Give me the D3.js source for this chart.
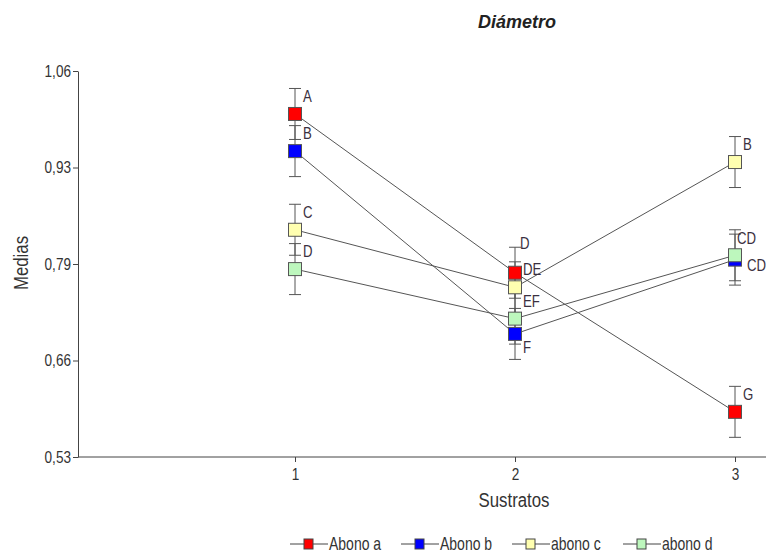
<!DOCTYPE html>
<html>
<head>
<meta charset="utf-8">
<script src="https://cdn.jsdelivr.net/npm/d3@7"></script>
<style>
  body { margin: 0; background: #fff; }
  text { font-family: "Liberation Sans", Arial, sans-serif; fill: #333; }
</style>
</head>
<body>
<div id="chart"></div>
<script>
// data
const sustratos = [1, 2, 3];
const seriesNames = ['Abono a', 'Abono b', 'abono c', 'abono d'];
const abonoA = [1.001, 0.783, 0.592];
const abonoB = [0.950, 0.699, 0.801];
const abonoC = [0.842, 0.763, 0.935];
const abonoD = [0.788, 0.720, 0.807];
const errHalf = 0.035;
const lettersA = ['A', 'D', 'G'];
const lettersB = ['B', 'F', 'CD'];
const lettersC = ['C', 'DE', 'B'];
const lettersD = ['D', 'EF', 'CD'];
const yTicks = [0.53, 0.6625, 0.795, 0.9275, 1.06];
const yTickLabels = ['0,53', '0,66', '0,79', '0,93', '1,06'];

const colors = ['#ff0000', '#0000ff', '#ffffb0', '#bdf7bd'];
// little nudges so the letters don't sit on top of each other
const labelNudge = [
    [[0, 0], [-3, -12], [0, 0]],
    [[0, 0], [0, 31], [4, 23]],
    [[0, 0], [0, 0], [0, 0]],
    [[0, 0], [0, 0], [-6, 1]]
];

const series = seriesNames.map((n, i) => ({
    name: n,
    values: [abonoA, abonoB, abonoC, abonoD][i],
    letters: [lettersA, lettersB, lettersC, lettersD][i],
    color: colors[i]
}));

const width = 766, height = 553;
const svg = d3.select('#chart').append('svg')
    .attr('width', width)
    .attr('height', height);

let x = d3.scaleLinear().domain([0, 3]).range([75, 735]);
let y = d3.scaleLinear().domain([0.53, 1.06]).range([457, 71]);
const axisColor = '#444';
const squeeze = 0.8; // the original font is a narrow one

// put a text at (px,py) and squash it horizontally
function narrowText(sel, px, py) {
    return sel.attr('x', 0).attr('y', 0)
        .attr('transform', 'translate(' + px + ',' + py + ') scale(' + squeeze + ',1)');
}

// title
svg.append('text')
    .attr('x', 517).attr('y', 28)
    .attr('text-anchor', 'middle')
    .style('font-size', '18px')
    .style('font-weight', 'bold')
    .style('font-style', 'italic')
    .style('fill', '#222')
    .text('Diámetro');

// y axis
let yAxis = svg.append('g')
    .attr('transform', 'translate(78,0)')
    .call(d3.axisLeft(y).tickValues(yTicks).tickSize(5).tickSizeOuter(0)
        .tickFormat((d, i) => yTickLabels[i]));
yAxis.select('.domain').attr('stroke', axisColor);
yAxis.selectAll('.tick line').attr('stroke', axisColor);
yAxis.selectAll('.tick text')
    .style('font-size', '17px')
    .style('font-family', '"Liberation Sans", Arial, sans-serif')
    .attr('fill', '#333')
    .call(narrowText, -7, 0);

// x axis
let xAxis = svg.append('g')
    .attr('transform', 'translate(0,457)')
    .call(d3.axisBottom(x).tickValues(sustratos).tickSize(5).tickSizeOuter(0)
        .tickFormat(d3.format('d')));
xAxis.select('.domain').attr('d', 'M78,0H766').attr('stroke', axisColor);
xAxis.selectAll('.tick line').attr('stroke', axisColor);
xAxis.selectAll('.tick text')
    .style('font-size', '17px')
    .style('font-family', '"Liberation Sans", Arial, sans-serif')
    .attr('fill', '#333')
    .call(narrowText, 0, 11);

// axis titles
svg.append('text')
    .attr('transform', 'translate(28,263) rotate(-90) scale(' + squeeze + ',1)')
    .attr('text-anchor', 'middle')
    .style('font-size', '21px')
    .text('Medias');

svg.append('text')
    .attr('text-anchor', 'middle')
    .style('font-size', '21px')
    .text('Sustratos')
    .call(narrowText, 514, 507);

const plot = svg.append('g');

// connecting lines
let line = d3.line()
    .x((d, i) => x(sustratos[i]))
    .y(d => y(d));

plot.selectAll('.conn')
    .data(series)
    .enter().append('path')
    .attr('class', 'conn')
    .attr('d', s => line(s.values))
    .attr('fill', 'none')
    .attr('stroke', '#555')
    .attr('stroke-width', 1);

// error bars
const capW = 6;
series.forEach(s => {
    let g = plot.append('g');
    s.values.forEach((v, i) => {
        let cx = x(sustratos[i]);
        g.append('line')
            .attr('x1', cx).attr('x2', cx)
            .attr('y1', y(v + errHalf)).attr('y2', y(v - errHalf))
            .attr('stroke', '#555');
        [v + errHalf, v - errHalf].forEach(e => {
            g.append('line')
                .attr('x1', cx - capW).attr('x2', cx + capW)
                .attr('y1', y(e)).attr('y2', y(e))
                .attr('stroke', '#555');
        });
    });
});

// squares
const sq = 13;
series.forEach(s => {
    plot.selectAll(null)
        .data(s.values)
        .enter().append('rect')
        .attr('x', (d, i) => x(sustratos[i]) - sq / 2)
        .attr('y', d => y(d) - sq / 2)
        .attr('width', sq)
        .attr('height', sq)
        .attr('fill', s.color)
        .attr('stroke', '#555')
        .attr('stroke-width', 1);
});

// letters
series.forEach((s, k) => {
    s.letters.forEach((l, i) => {
        let nd = labelNudge[k][i];
        plot.append('text')
            .style('font-size', '16.5px')
            .style('fill', '#3a3040')
            .text(l)
            .call(narrowText, x(sustratos[i]) + 8 + nd[0], y(s.values[i]) - 12 + nd[1]);
    });
});

// legend
let legend = svg.append('g').attr('transform', 'translate(290,544)');
let item = legend.selectAll('.item')
    .data(series)
    .enter().append('g')
    .attr('class', 'item')
    .attr('transform', (d, i) => 'translate(' + (i * 111) + ',0)');

item.append('line')
    .attr('x1', 0).attr('x2', 38)
    .attr('y1', 0).attr('y2', 0)
    .attr('stroke', '#444');
item.append('rect')
    .attr('x', 14).attr('y', -5)
    .attr('width', 9).attr('height', 10)
    .attr('fill', d => d.color)
    .attr('stroke', '#444');
item.append('text')
    .style('font-size', '17.5px')
    .text(d => d.name)
    .call(narrowText, 39, 6);
</script>
</body>
</html>
